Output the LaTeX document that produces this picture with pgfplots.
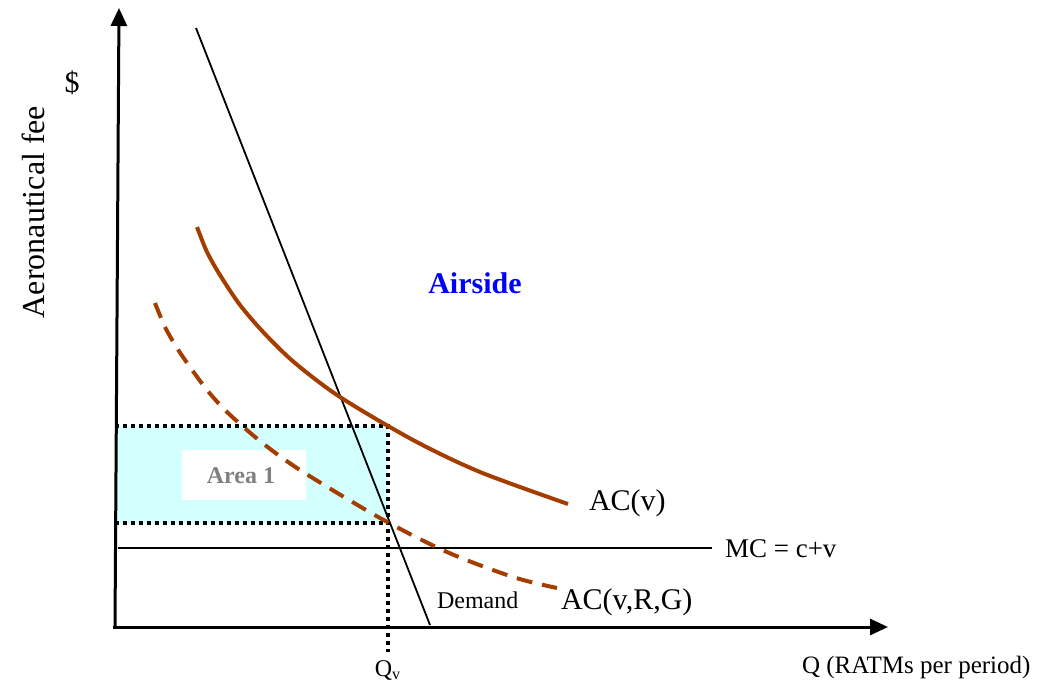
\documentclass[border=0pt]{standalone}
\usepackage{fontspec}
\setmainfont{Liberation Serif}
\usepackage{pgfplots}
\pgfplotsset{compat=1.18}
\usetikzlibrary{arrows.meta}

\definecolor{acbrown}{RGB}{163,62,0}
\definecolor{areacyan}{RGB}{212,255,255}
\definecolor{airblue}{RGB}{0,0,255}

\newcommand{\fs}[1]{\fontsize{#1}{#1}\selectfont}

\begin{document}
\begin{tikzpicture}
\begin{axis}[
    scale only axis,
    width=523pt, height=345.5pt,
    xmin=0, xmax=1046,
    ymin=0, ymax=691,
    y dir=reverse,
    hide axis,
    clip=false,
]
% shaded area
\addplot[fill=areacyan, draw=none] coordinates {(115,426) (388,426) (388,523) (115,523)} -- cycle;
\addplot[fill=white, draw=none] coordinates {(182,450) (306,450) (306,500) (182,500)} -- cycle;
% dotted box and Q_v drop line
\addplot[black, line width=2pt, dash pattern=on 2pt off 2pt]
    coordinates {(115,426) (388,426) (388,652)};
\addplot[black, line width=2pt, dash pattern=on 2pt off 2pt]
    coordinates {(115,523) (388,523)};
% axes
\addplot[black, line width=1.5pt, -{Triangle[length=9pt,width=8pt]}]
    coordinates {(115,627) (119,8)};
\addplot[black, line width=1.5pt, -{Triangle[length=9pt,width=8pt]}]
    coordinates {(113,627) (888,627)};
% MC
\addplot[black, line width=0.8pt] coordinates {(118,548) (712,548)};
% demand
\addplot[black, line width=0.9pt] coordinates {(196,28) (430,625)};
% AC(v)
\addplot[acbrown, line width=2pt, smooth] coordinates {
    (197,227) (207,252) (220,275) (240,305) (265,334) (295,363) (340,397)
    (413,440) (480,472) (568,504)};
% AC(v,R,G)
\addplot[acbrown, line width=2pt, smooth, dash pattern=on 8pt off 5pt] coordinates {
    (155,303) (165,327) (177,348) (190,367) (207,390) (227,412) (260,441)
    (300,470) (380,518) (447,552) (513,577) (557,588)};
% labels
\node[font=\fs{15}\bfseries, text=airblue] at (axis cs:475,283) {Airside};
\node[font=\fs{12}\bfseries, text=gray] at (axis cs:241,476) {Area 1};
\node[font=\fs{15}] at (axis cs:72,83) {\$};
\node[font=\fs{16}, rotate=90] at (axis cs:33,212) {Aeronautical fee};
\node[font=\fs{15}, anchor=west] at (axis cs:582,503) {AC(v)};
\node[font=\fs{15}, anchor=west] at (axis cs:554,602) {AC(v,R,G)};
\node[font=\fs{13.5}, anchor=west] at (axis cs:718,549) {MC = c+v};
\node[font=\fs{12}, anchor=west] at (axis cs:430,600) {Demand};
\node[font=\fs{12}] at (axis cs:388,670) {Q\textsubscript{v}};
\node[font=\fs{12.5}, anchor=west] at (axis cs:795,667) {Q (RATMs per period)};
\end{axis}
\pgfresetboundingbox
\path (0,0) rectangle (523pt,345.5pt);
\end{tikzpicture}
\end{document}
